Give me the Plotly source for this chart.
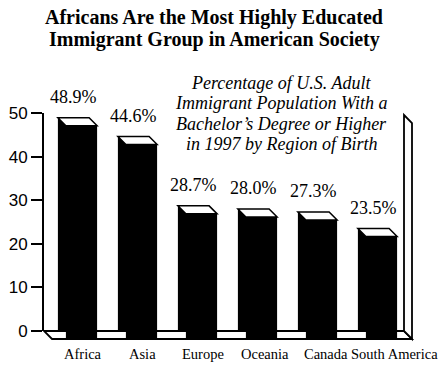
import plotly.graph_objects as go

# ---- data ----
categories = ["Africa", "Asia", "Europe", "Oceania", "Canada", "South America"]
values = [48.9, 44.6, 28.7, 28.0, 27.3, 23.5]
value_labels = ["48.9%", "44.6%", "28.7%", "28.0%", "27.3%", "23.5%"]
y_ticks = [0, 10, 20, 30, 40, 50]
title_lines = ["Africans Are the Most Highly Educated",
               "Immigrant Group in American Society"]
subtitle_lines = ["Percentage of U.S. Adult",
                  "Immigrant Population With a",
                  "Bachelor\u2019s Degree or Higher",
                  "in 1997 by Region of Birth"]

# ---- geometry / style ----
W, H = 443, 368
PLOT_L, PLOT_R, PLOT_T, PLOT_B = 44, 412, 113, 339   # pixel box of plotting area
ML, MR, MT, MB = PLOT_L, W - PLOT_R, PLOT_T, H - PLOT_B
D = 8                      # 3D depth offset in pixels
PW = W - ML - MR
PH = H - MT - MB
dx = D / PW
dy = D / PH
xr = [-0.4917, 5.5083]
px_per_unit = (PW - D) / (xr[1] - xr[0])
bw = 0.52
idx = list(range(len(categories)))
label_xshift = [1, 1, 1.5, 3, 4, 12.5]
SERIF = "'Liberation Serif', 'Times New Roman', Times, serif"
SANS = "'Liberation Sans', Arial, Helvetica, sans-serif"


def px(page_x):
    return (page_x - PLOT_L) / PW


def py(page_y):
    return (PLOT_B - page_y) / PH


fig = go.Figure()
# back plane of bars
fig.add_trace(go.Bar(x=idx, y=values, width=bw, xaxis="x", yaxis="y",
                     marker=dict(color="black", line=dict(width=0)),
                     hoverinfo="skip", showlegend=False))
# front plane of bars (shifted by depth)
fig.add_trace(go.Bar(x=idx, y=values, width=bw, xaxis="x2", yaxis="y2",
                     marker=dict(color="black", line=dict(width=0)),
                     hoverinfo="skip", showlegend=False))

shapes = []
# floor
shapes.append(dict(type="path", xref="paper", yref="paper", layer="below",
                   path=f"M0,{dy} L{1-dx},{dy} L1,0 L{dx},0 Z",
                   fillcolor="white", line=dict(color="black", width=1.8)))
# right wall
shapes.append(dict(type="path", xref="paper", yref="paper", layer="below",
                   path=f"M{1-dx},{py(115)} L1,{py(123)} L1,0 L{1-dx},{dy} Z",
                   fillcolor="white", line=dict(color="black", width=1.8)))
wpx = bw * px_per_unit
for i, v in zip(idx, values):
    # top face
    shapes.append(dict(type="path", xref="x", yref="y", layer="above",
                       xsizemode="pixel", ysizemode="pixel",
                       xanchor=i - bw / 2, yanchor=v,
                       path=f"M0,0 L{wpx},0 L{wpx+D},{-D} L{D},{-D} Z",
                       fillcolor="white", line=dict(color="black", width=1.5)))
    # bottom of left side face
    shapes.append(dict(type="path", xref="x", yref="y", layer="above",
                       xsizemode="pixel", ysizemode="pixel",
                       xanchor=i - bw / 2, yanchor=0,
                       path=f"M0,0 L{D},{-D} L{D},0 Z",
                       fillcolor="black", line=dict(color="black", width=1)))

annotations = []
for i, v, t in zip(idx, values, value_labels):
    annotations.append(dict(x=i, y=v, xref="x", yref="y", text=t, showarrow=False,
                            yanchor="bottom", yshift=9,
                            font=dict(family=SERIF, size=18, color="black")))
for i, c, s in zip(idx, categories, label_xshift):
    annotations.append(dict(x=i, y=0, xref="x2", yref="y2", text=c, showarrow=False,
                            yanchor="top", yshift=-5, xshift=s,
                            font=dict(family=SERIF, size=14.5, color="black")))
for k, line in enumerate(subtitle_lines):
    annotations.append(dict(x=px(281), y=py(83 + 20.3 * k), xref="paper", yref="paper",
                            text="<i>" + line + "</i>", showarrow=False,
                            xanchor="center", yanchor="middle",
                            font=dict(family=SERIF, size=18, color="black")))
for k, line in enumerate(title_lines):
    annotations.append(dict(x=px(214), y=py(18 + 21.5 * k), xref="paper", yref="paper",
                            text="<b>" + line + "</b>", showarrow=False,
                            xanchor="center", yanchor="middle",
                            font=dict(family=SERIF, size=20, color="black")))

fig.update_layout(
    width=W, height=H,
    margin=dict(l=ML, r=MR, t=MT, b=MB),
    paper_bgcolor="white", plot_bgcolor="rgba(0,0,0,0)",
    hovermode=False,
    xaxis=dict(domain=[0, 1 - dx], range=xr, visible=False, anchor="y"),
    yaxis=dict(domain=[dy, 1], range=[0, 50], anchor="x", tickvals=y_ticks,
               ticks="outside", ticklen=11, tickwidth=2, tickcolor="black",
               showline=True, linewidth=2, linecolor="black",
               showgrid=False, zeroline=False, automargin=False,
               tickfont=dict(family=SANS, size=17, color="black")),
    xaxis2=dict(domain=[dx, 1], range=xr, anchor="y2", tickvals=idx,
                showticklabels=False, ticks="", showline=False, showgrid=False,
                zeroline=False, automargin=False),
    yaxis2=dict(domain=[0, 1 - dy], range=[0, 50], anchor="x2", visible=False),
    shapes=shapes,
    annotations=annotations,
)

fig.write_html("out.html",
               config={"displayModeBar": False, "staticPlot": True},
               post_script="document.body.style.margin='0';document.body.style.overflow='hidden';")
